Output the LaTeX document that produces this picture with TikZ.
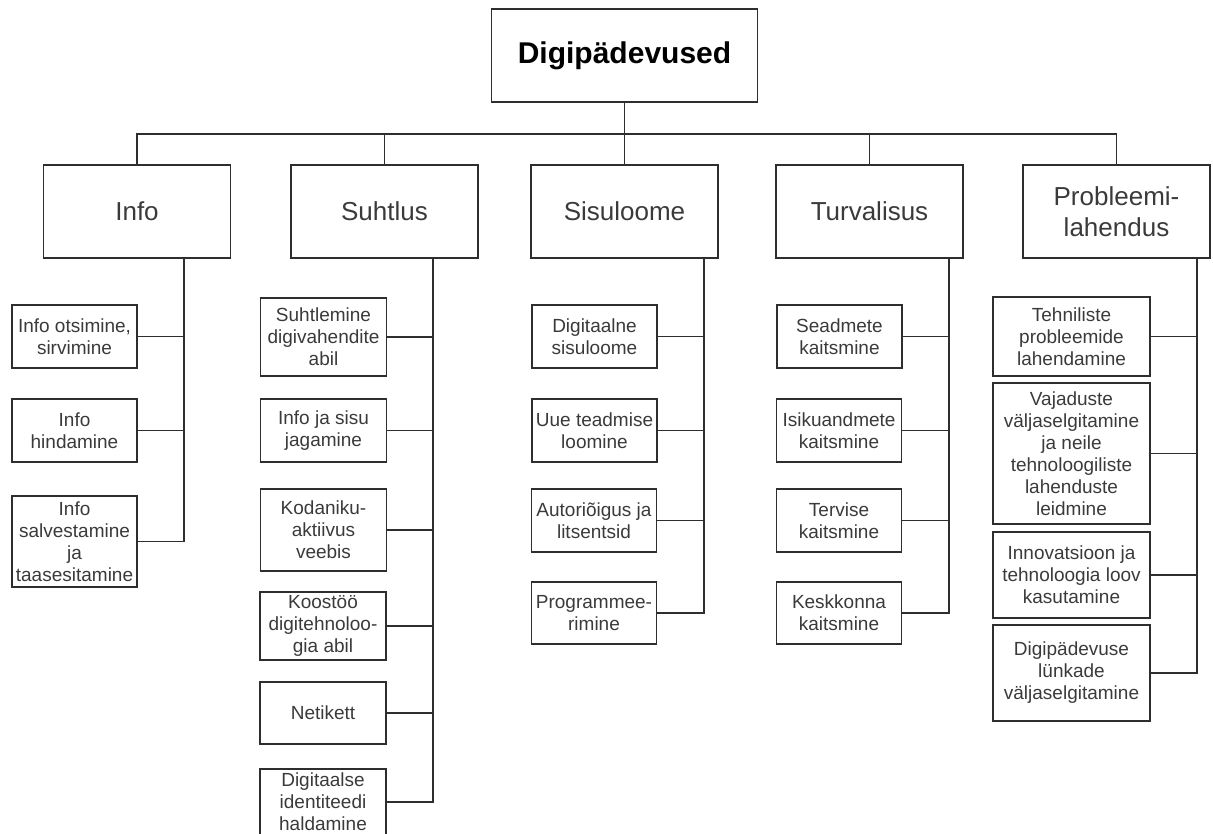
\documentclass[tikz,border=0pt]{standalone}
\usepackage{fontspec}
\setmainfont{Liberation Sans}
\usepackage{tikz}

\definecolor{linecol}{HTML}{2E2E2E}
\definecolor{textcol}{HTML}{3A3A3A}

\begin{document}
\begin{tikzpicture}[x=1pt,y=-1pt,
                    box/.style={draw=linecol,line width=1.3pt,align=center,inner sep=0pt,text=textcol},
                    rootbox/.style={box,minimum width=266pt,minimum height=93pt,
                                    font=\fontsize{30}{36}\selectfont\bfseries,text=black},
                    areabox/.style={box,minimum width=187pt,minimum height=93pt,
                                    font=\fontsize{26}{31}\selectfont},
                    itembox/.style={box,minimum width=125pt,font=\fontsize{19}{22}\selectfont},
                    conn/.style={draw=linecol,line width=1.3pt}
                    ]

                \useasboundingbox (0,0) rectangle (1213,833);

                % The top and the five areas
                \node[rootbox] (root) at (624.5,55.5) {Digipädevused};
                \node[areabox] (info) at (137,211.5) {Info};
                \node[areabox] (suht) at (384.5,211.5) {Suhtlus};
                \node[areabox] (sisu) at (624.5,211.5) {Sisuloome};
                \node[areabox] (turv) at (869.5,211.5) {Turvalisus};
                \node[areabox] (prob) at (1116.5,211.5) {Probleemi-\\lahendus};

                % Info
                \node[itembox,minimum height=63pt] (i1) at (74.5,336.5) {Info otsimine,\\sirvimine};
                \node[itembox,minimum height=63pt] (i2) at (74.5,430.5) {Info\\hindamine};
                \node[itembox,minimum height=91pt] (i3) at (74.5,541.5) {Info\\salvestamine\\ja\\taasesitamine};

                % Suhtlus
                \node[itembox,minimum width=126pt,minimum height=78pt] (s1) at (323.5,337) {Suhtlemine\\digivahendite\\abil};
                \node[itembox,minimum width=126pt,minimum height=63pt] (s2) at (323.5,430.5) {Info ja sisu\\jagamine};
                \node[itembox,minimum width=126pt,minimum height=82pt] (s3) at (323.5,530) {Kodaniku-\\aktiivus\\veebis};
                \node[itembox,minimum width=126pt,minimum height=68pt] (s4) at (323,626) {Koostöö\\digitehnoloo-\\gia abil};
                \node[itembox,minimum width=126pt,minimum height=62pt] (s5) at (323,713) {Netikett};
                \node[itembox,minimum width=126pt,minimum height=66pt] (s6) at (323,802) {Digitaalse\\identiteedi\\haldamine};

                % Sisuloome
                \node[itembox,minimum height=63pt] (c1) at (594.5,336.5) {Digitaalne\\sisuloome};
                \node[itembox,minimum height=63pt] (c2) at (594.5,430.5) {Uue teadmise\\loomine};
                \node[itembox,minimum height=63pt] (c3) at (594,520.5) {Autoriõigus ja\\litsentsid};
                \node[itembox,minimum height=62pt] (c4) at (594,613) {Programmee-\\rimine};

                % Turvalisus
                \node[itembox,minimum height=63pt] (t1) at (839.5,336.5) {Seadmete\\kaitsmine};
                \node[itembox,minimum height=63pt] (t2) at (839,430.5) {Isikuandmete\\kaitsmine};
                \node[itembox,minimum height=63pt] (t3) at (839,520.5) {Tervise\\kaitsmine};
                \node[itembox,minimum height=62pt] (t4) at (839,613) {Keskkonna\\kaitsmine};

                % Probleemilahendus
                \node[itembox,minimum width=157pt,minimum height=79pt] (p1) at (1071.5,336.5) {Tehniliste\\probleemide\\lahendamine};
                \node[itembox,minimum width=157pt,minimum height=141pt] (p2) at (1071.5,453.5) {Vajaduste\\väljaselgitamine\\ja neile\\tehnoloogiliste\\lahenduste\\leidmine};
                \node[itembox,minimum width=157pt,minimum height=86pt] (p3) at (1071.5,575) {Innovatsioon ja\\tehnoloogia loov\\kasutamine};
                \node[itembox,minimum width=157pt,minimum height=96pt] (p4) at (1071.5,673) {Digipädevuse\\lünkade\\väljaselgitamine};

                % The bus under the top
                \coordinate (bus) at (624.5,134);
                \draw[conn] (root.south) -- (bus);
                \draw[conn] (info.north) |- (bus) (suht.north) |- (bus) (sisu.north) -- (bus)
                            (turv.north) |- (bus) (prob.north) |- (bus);

                % The trunks under the areas
                \coordinate (tinfo) at (184,258);
                \coordinate (tsuht) at (433,258);
                \coordinate (tsisu) at (704,258);
                \coordinate (tturv) at (949,258);
                \coordinate (tprob) at (1197,258);

                \draw[conn] (tinfo) |- (i1.east) (tinfo) |- (i2.east) (tinfo) |- (i3.east);
                \draw[conn] (tsuht) |- (s1.east) (tsuht) |- (s2.east) (tsuht) |- (s3.east)
                            (tsuht) |- (s4.east) (tsuht) |- (s5.east) (tsuht) |- (s6.east);
                \draw[conn] (tsisu) |- (c1.east) (tsisu) |- (c2.east) (tsisu) |- (c3.east) (tsisu) |- (c4.east);
                \draw[conn] (tturv) |- (t1.east) (tturv) |- (t2.east) (tturv) |- (t3.east) (tturv) |- (t4.east);
                \draw[conn] (tprob) |- (p1.east) (tprob) |- (p2.east) (tprob) |- (p3.east) (tprob) |- (p4.east);
\end{tikzpicture}
\end{document}
